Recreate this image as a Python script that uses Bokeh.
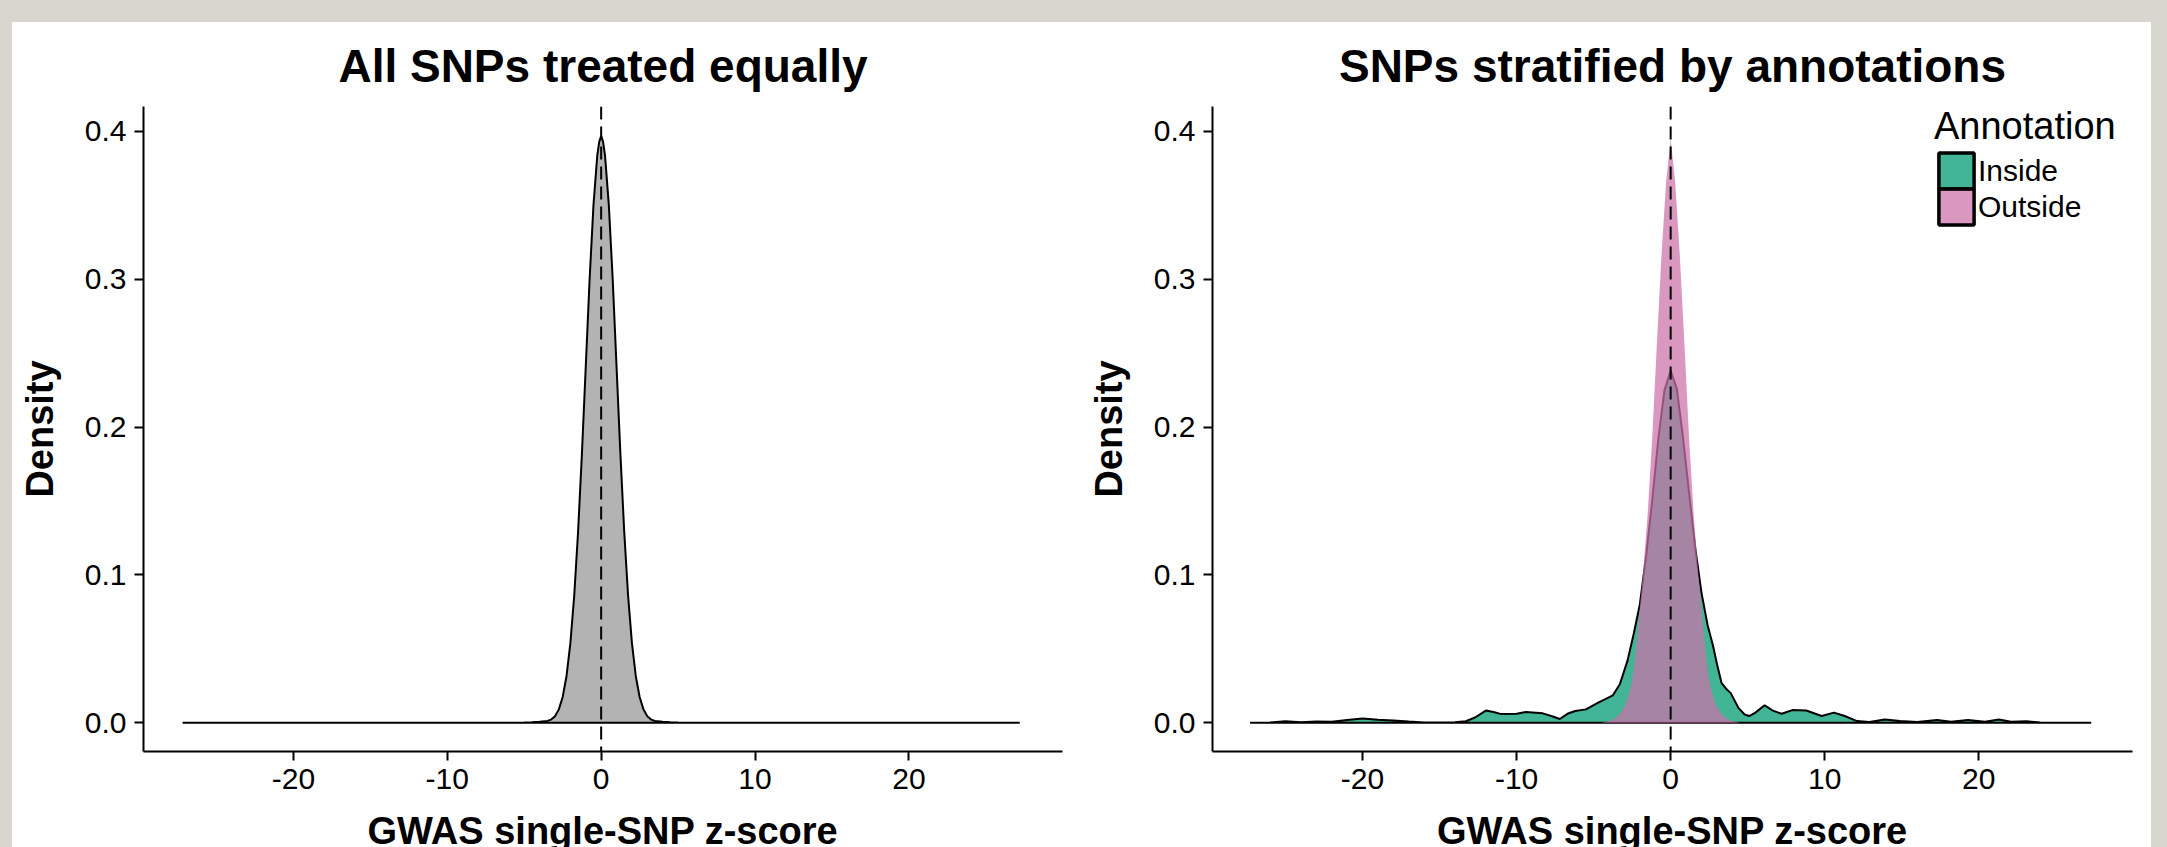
from bokeh.plotting import figure
from bokeh.models import (Range1d, Span, Legend, LegendItem, FixedTicker,
                          Spacer, ColumnDataSource)
from bokeh.layouts import row, column
from bokeh.embed import file_html
from bokeh.resources import INLINE

# ---------------- data ----------------
x_all = [-27.2, -10.0, -6.0, -5.0, -4.5, -4.0, -3.5, -3.25, -3.0, -2.75, -2.5, -2.25,
         -2.0, -1.75, -1.5, -1.25, -1.0, -0.75, -0.5, -0.25, -0.125, 0.0,
         0.125, 0.25, 0.5, 0.75, 1.0, 1.25, 1.5, 1.75, 2.0, 2.25, 2.5, 2.75, 3.0,
         3.25, 3.5, 4.0, 4.5, 5.0, 6.0, 10.0, 27.2]
dens_all = [0.0, 0.0, 0.0, 0.0001, 0.0003, 0.0006, 0.0012, 0.0021, 0.0043, 0.0090,
            0.0174, 0.0316, 0.0538, 0.0860, 0.1290, 0.1820, 0.2410, 0.3000, 0.3500,
            0.3840, 0.3930, 0.3970,
            0.3930, 0.3840, 0.3500, 0.3000, 0.2410, 0.1820, 0.1290, 0.0860, 0.0538,
            0.0316, 0.0174, 0.0090, 0.0043, 0.0021, 0.0012, 0.0006, 0.0003, 0.0001,
            0.0, 0.0, 0.0]

x_inside = [-27.3, -26.0, -25.0, -24.0, -23.0, -22.0, -21.0, -20.0, -19.0, -18.0,
            -17.0, -16.0, -15.0, -14.0, -13.3, -12.7, -12.0, -11.5, -11.0, -10.0,
            -9.4, -8.3, -7.6, -7.2, -6.7, -6.2, -5.5, -4.7, -3.75, -3.3, -2.8, -2.4,
            -2.0, -1.6, -1.2, -0.8, -0.4, 0.0, 0.4, 0.8, 1.2, 1.6, 2.0, 2.4, 2.75,
            3.0, 3.3, 3.6, 3.9, 4.4, 4.8, 5.1, 5.5, 6.1, 6.6, 7.2, 7.9, 8.8, 9.8,
            10.6, 11.3, 12.1, 12.9, 13.9, 14.9, 16.0, 17.3, 18.2, 19.3, 20.4, 21.3,
            22.1, 23.1, 24.0, 25.0, 27.3]
dens_inside = [0.0, 0.0002, 0.0010, 0.0003, 0.0008, 0.0006, 0.0018, 0.0028, 0.0020,
               0.0015, 0.0008, 0.0002, 0.0001, 0.0003, 0.0010, 0.0035, 0.0082, 0.0072,
               0.0058, 0.0060, 0.0072, 0.0063, 0.0040, 0.0025, 0.0060, 0.0079, 0.0090,
               0.0135, 0.0185, 0.0260, 0.0420, 0.0600, 0.0800, 0.1120, 0.1500, 0.1920,
               0.2250, 0.2380, 0.2260, 0.1930, 0.1550, 0.1180, 0.0880, 0.0660, 0.0520,
               0.0400, 0.0270, 0.0230, 0.0200, 0.0100, 0.0055, 0.0045, 0.0068, 0.0118,
               0.0083, 0.0060, 0.0085, 0.0082, 0.0045, 0.0068, 0.0045, 0.0011, 0.0005,
               0.0022, 0.0011, 0.0005, 0.0018, 0.0007, 0.0018, 0.0007, 0.0022, 0.0007,
               0.0009, 0.0002, 0.0, 0.0]

x_outside = [-27.3, -4.5, -4.0, -3.6, -3.3, -3.0, -2.8, -2.6, -2.4, -2.2, -2.0, -1.8,
             -1.5, -1.2, -0.9, -0.6, -0.3, 0.0, 0.3, 0.6, 0.9, 1.2, 1.5, 1.8, 2.0,
             2.2, 2.4, 2.6, 2.8, 3.0, 3.3, 3.6, 4.0, 4.5, 27.3]
dens_outside = [0.0, 0.0, 0.001, 0.003, 0.006, 0.011, 0.016, 0.024, 0.035, 0.055,
                0.078, 0.100, 0.140, 0.192, 0.255, 0.315, 0.365, 0.395, 0.365, 0.315,
                0.255, 0.192, 0.140, 0.100, 0.078, 0.055, 0.035, 0.024, 0.016, 0.011,
                0.006, 0.003, 0.001, 0.0, 0.0]

annotation_labels = ["Inside", "Outside"]
legend_title = "Annotation"
x_ticks = [-20, -10, 0, 10, 20]
x_tick_labels = ["-20", "-10", "0", "10", "20"]
y_ticks = [0.0, 0.1, 0.2, 0.3, 0.4]
y_tick_labels = ["0.0", "0.1", "0.2", "0.3", "0.4"]
titles = ["All SNPs treated equally", "SNPs stratified by annotations"]
x_label = "GWAS single-SNP z-score"
y_label = "Density"

FONT = "Liberation Sans"
GREEN = "#41b595"
PINK = "#cc72a9"
PINK_ALPHA = 0.73
PAGE_BG = "#d6d6ce"
NAN = float("nan")


def make_fig(title, width, min_left, min_right):
    p = figure(width=width, height=860, output_backend="svg", toolbar_location=None,
               x_range=Range1d(-29.74, 29.98), y_range=Range1d(-0.0195, 0.4169),
               min_border_left=min_left, min_border_right=min_right,
               min_border_top=81, min_border_bottom=131, title=title)
    p.background_fill_color = "white"
    p.border_fill_color = "white"
    p.outline_line_color = None
    p.grid.visible = False

    p.title.text_font = FONT
    p.title.text_font_size = "46px"
    p.title.text_font_style = "bold"
    p.title.text_color = "black"
    p.title.align = "center"
    p.title.standoff = 30

    for ax in (p.xaxis[0], p.yaxis[0]):
        ax.axis_line_color = "black"
        ax.axis_line_width = 2
        ax.major_tick_line_color = "black"
        ax.major_tick_line_width = 2
        ax.major_tick_out = 9
        ax.major_tick_in = 0
        ax.minor_tick_line_color = None
        ax.major_label_text_font = FONT
        ax.major_label_text_font_size = "30px"
        ax.major_label_text_color = "black"
        ax.axis_label_text_font = FONT
        ax.axis_label_text_font_size = "38px"
        ax.axis_label_text_font_style = "bold"
        ax.axis_label_text_color = "black"

    p.xaxis.ticker = FixedTicker(ticks=x_ticks)
    p.xaxis.major_label_overrides = dict(zip(x_ticks, x_tick_labels))
    p.xaxis.major_label_standoff = 8
    p.xaxis.axis_label = x_label
    p.xaxis.axis_label_standoff = 18

    p.yaxis.ticker = FixedTicker(ticks=y_ticks)
    p.yaxis.major_label_overrides = dict(zip(y_ticks, y_tick_labels))
    p.yaxis.major_label_standoff = 8
    p.yaxis.axis_label = y_label
    p.yaxis.axis_label_standoff = 21
    return p


def style_legend(lg):
    lg.title_text_font = FONT
    lg.title_text_font_size = "38px"
    lg.title_text_font_style = "normal"
    lg.title_text_color = "black"
    lg.title_standoff = 0
    lg.label_text_font = FONT
    lg.label_text_font_size = "30px"
    lg.label_text_color = "black"
    lg.label_standoff = 0
    lg.glyph_width = 44
    lg.glyph_height = 45
    lg.label_height = 30
    lg.spacing = 0
    lg.padding = 0
    lg.margin = 0
    lg.border_line_color = None
    lg.background_fill_alpha = 0


# ---------------- left panel ----------------
p1 = make_fig(titles[0], 1063, 131, 13)
p1.patch(x="x", y="y", source=ColumnDataSource(dict(x=x_all, y=dens_all)),
         fill_color="#b3b3b3", line_color="black", line_width=2)
p1.add_layout(Span(location=0, dimension="height", line_color="black",
                   line_width=2, line_dash="13 7"))

# ---------------- right panel ----------------
p2 = make_fig(titles[1], 1076, 137, 19)
p2.patch(x="x", y="y", source=ColumnDataSource(dict(x=x_inside, y=dens_inside)),
         fill_color=GREEN, line_color="black", line_width=2)
p2.patch(x="x", y="y", source=ColumnDataSource(dict(x=x_outside, y=dens_outside)),
         fill_color=PINK, fill_alpha=PINK_ALPHA, line_color=None)
p2.add_layout(Span(location=0, dimension="height", line_color="black",
                   line_width=2, line_dash="13 7"))

# legend keys (filled boxes with black border); NaN rows are never drawn in the plot
key_in = p2.quad(left=[NAN], right=[NAN], top=[NAN], bottom=[NAN], fill_color=GREEN,
                 line_color="black", line_width=3.5)
key_out = p2.quad(left=[NAN], right=[NAN], top=[NAN], bottom=[NAN], fill_color=PINK,
                  fill_alpha=PINK_ALPHA, line_color="black", line_width=3.5)

# two stacked legends so that the two key boxes share one border
legend_a = Legend(items=[LegendItem(label=annotation_labels[0], renderers=[key_in])],
                  location=(722, 558), title=legend_title)
legend_b = Legend(items=[LegendItem(label=annotation_labels[1], renderers=[key_out])],
                  location=(722, 522))
style_legend(legend_a)
style_legend(legend_b)
p2.add_layout(legend_a)
p2.add_layout(legend_b)

plots = row(p1, p2, styles={"background-color": "white"})
inner = row(Spacer(width=12), plots, Spacer(width=16),
            styles={"background-color": PAGE_BG})
layout = column(Spacer(height=22), inner, height=847,
                styles={"background-color": PAGE_BG, "overflow": "hidden"})

open("out.html", "w").write(file_html(layout, INLINE))
